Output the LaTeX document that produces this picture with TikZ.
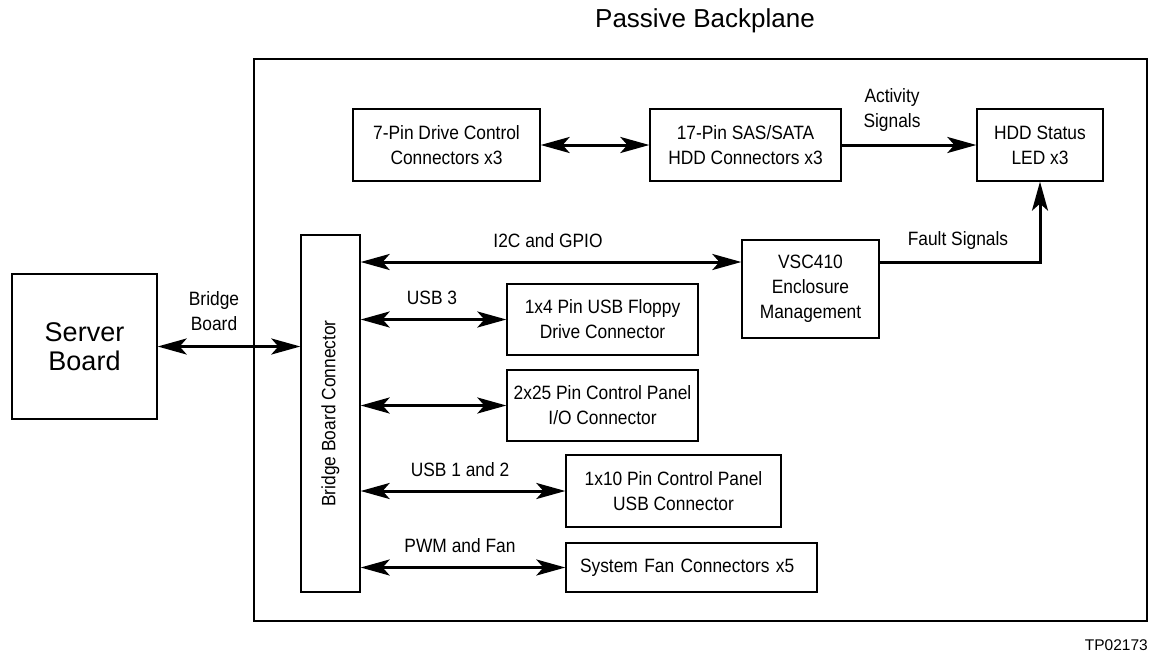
\documentclass[tikz,border=0pt]{standalone}
\usepackage{fontspec}
\setmainfont{Liberation Sans}[FakeStretch=0.9]
\newfontfamily\plainsans{Liberation Sans}
\usetikzlibrary{arrows.meta}
\begin{document}
\begin{tikzpicture}[x=1pt,y=-1pt,
  box/.style={draw, line width=1.3pt, align=center, inner sep=0pt, font=\fontsize{19.3}{25}\selectfont},
  lbl/.style={align=center, inner sep=0pt, font=\fontsize{19.3}{25}\selectfont},
  tipA/.tip={Stealth[length=29pt,width=16pt,inset=7pt]},
  arr/.style={line width=3pt, tipA-tipA},
  arrone/.style={line width=3pt, -tipA}]
\useasboundingbox (0,0) rectangle (1149,656);

% title and frame
\node[anchor=base, inner sep=0pt, font=\plainsans\fontsize{26}{30}\selectfont] (title) at (705,27) {Passive Backplane};
\node[draw, line width=2pt, minimum width=893pt, minimum height=562pt, inner sep=0pt] (backplane) at (700.5,340) {};
\node[anchor=base east, inner sep=0pt, font=\plainsans\fontsize{15.5}{18}\selectfont] (tp) at (1148,650) {TP02173};

% boxes
\node[box, font=\plainsans\fontsize{27}{29}\selectfont, minimum width=145pt, minimum height=145pt] (server) at (84.5,346.5) {Server\\Board};
\node[box, minimum width=59pt, minimum height=357pt] (bridgebox) at (330.5,413.5) {\rotatebox{90}{Bridge Board Connector}};
\node[box, minimum width=187pt, minimum height=72pt] (drivectl) at (446.5,145) {7-Pin Drive Control\\Connectors x3};
\node[box, minimum width=191pt, minimum height=72pt] (hddconn) at (745.5,145) {17-Pin SAS/SATA\\HDD Connectors x3};
\node[box, minimum width=126pt, minimum height=72pt] (hddled) at (1040,145) {HDD Status\\LED x3};
\node[box, minimum width=137pt, minimum height=98pt] (vsc) at (810.5,289) {VSC410\\Enclosure\\Management};
\node[box, minimum width=191pt, minimum height=71pt] (floppy) at (602.5,319.5) {1x4 Pin USB Floppy\\Drive Connector};
\node[box, minimum width=191pt, minimum height=71pt] (cpio) at (602.5,405.5) {2x25 Pin Control Panel\\I/O Connector};
\node[box, minimum width=215pt, minimum height=72pt] (cpusb) at (673.5,491) {1x10 Pin Control Panel\\USB Connector};
\node[box, minimum width=251pt, minimum height=49pt, text width=223pt, align=left, inner xsep=14pt] (fan) at (691.5,567.5) {System Fan Connectors x5};

% labels
\node[lbl] (lbridge) at (214,311) {Bridge\\Board};
\node[lbl] (lact) at (892,110) {Activity\\Signals};
\node[lbl] (li2c) at (548,241) {I2C and GPIO};
\node[lbl] (lfault) at (958,241) {Fault Signals};
\node[lbl] (lusb3) at (432,298) {USB 3};
\node[lbl] (lusb12) at (460,470) {USB 1 and 2};
\node[lbl] (lpwm) at (460,546) {PWM and Fan};

% connectors
\coordinate (sig) at (0,262);
\draw[arr] (server.east) -- (server.east -| bridgebox.west);
\draw[arr] (drivectl.east) -- (hddconn.west);
\draw[arrone] (hddconn.east) -- (hddled.west);
\draw[arr] (bridgebox.east |- sig) -- (vsc.west |- sig);
\draw[arrone] (vsc.east |- sig) -| (hddled.south);
\draw[arr] (floppy.west -| bridgebox.east) -- (floppy.west);
\draw[arr] (cpio.west -| bridgebox.east) -- (cpio.west);
\draw[arr] (cpusb.west -| bridgebox.east) -- (cpusb.west);
\draw[arr] (fan.west -| bridgebox.east) -- (fan.west);
\end{tikzpicture}
\end{document}
